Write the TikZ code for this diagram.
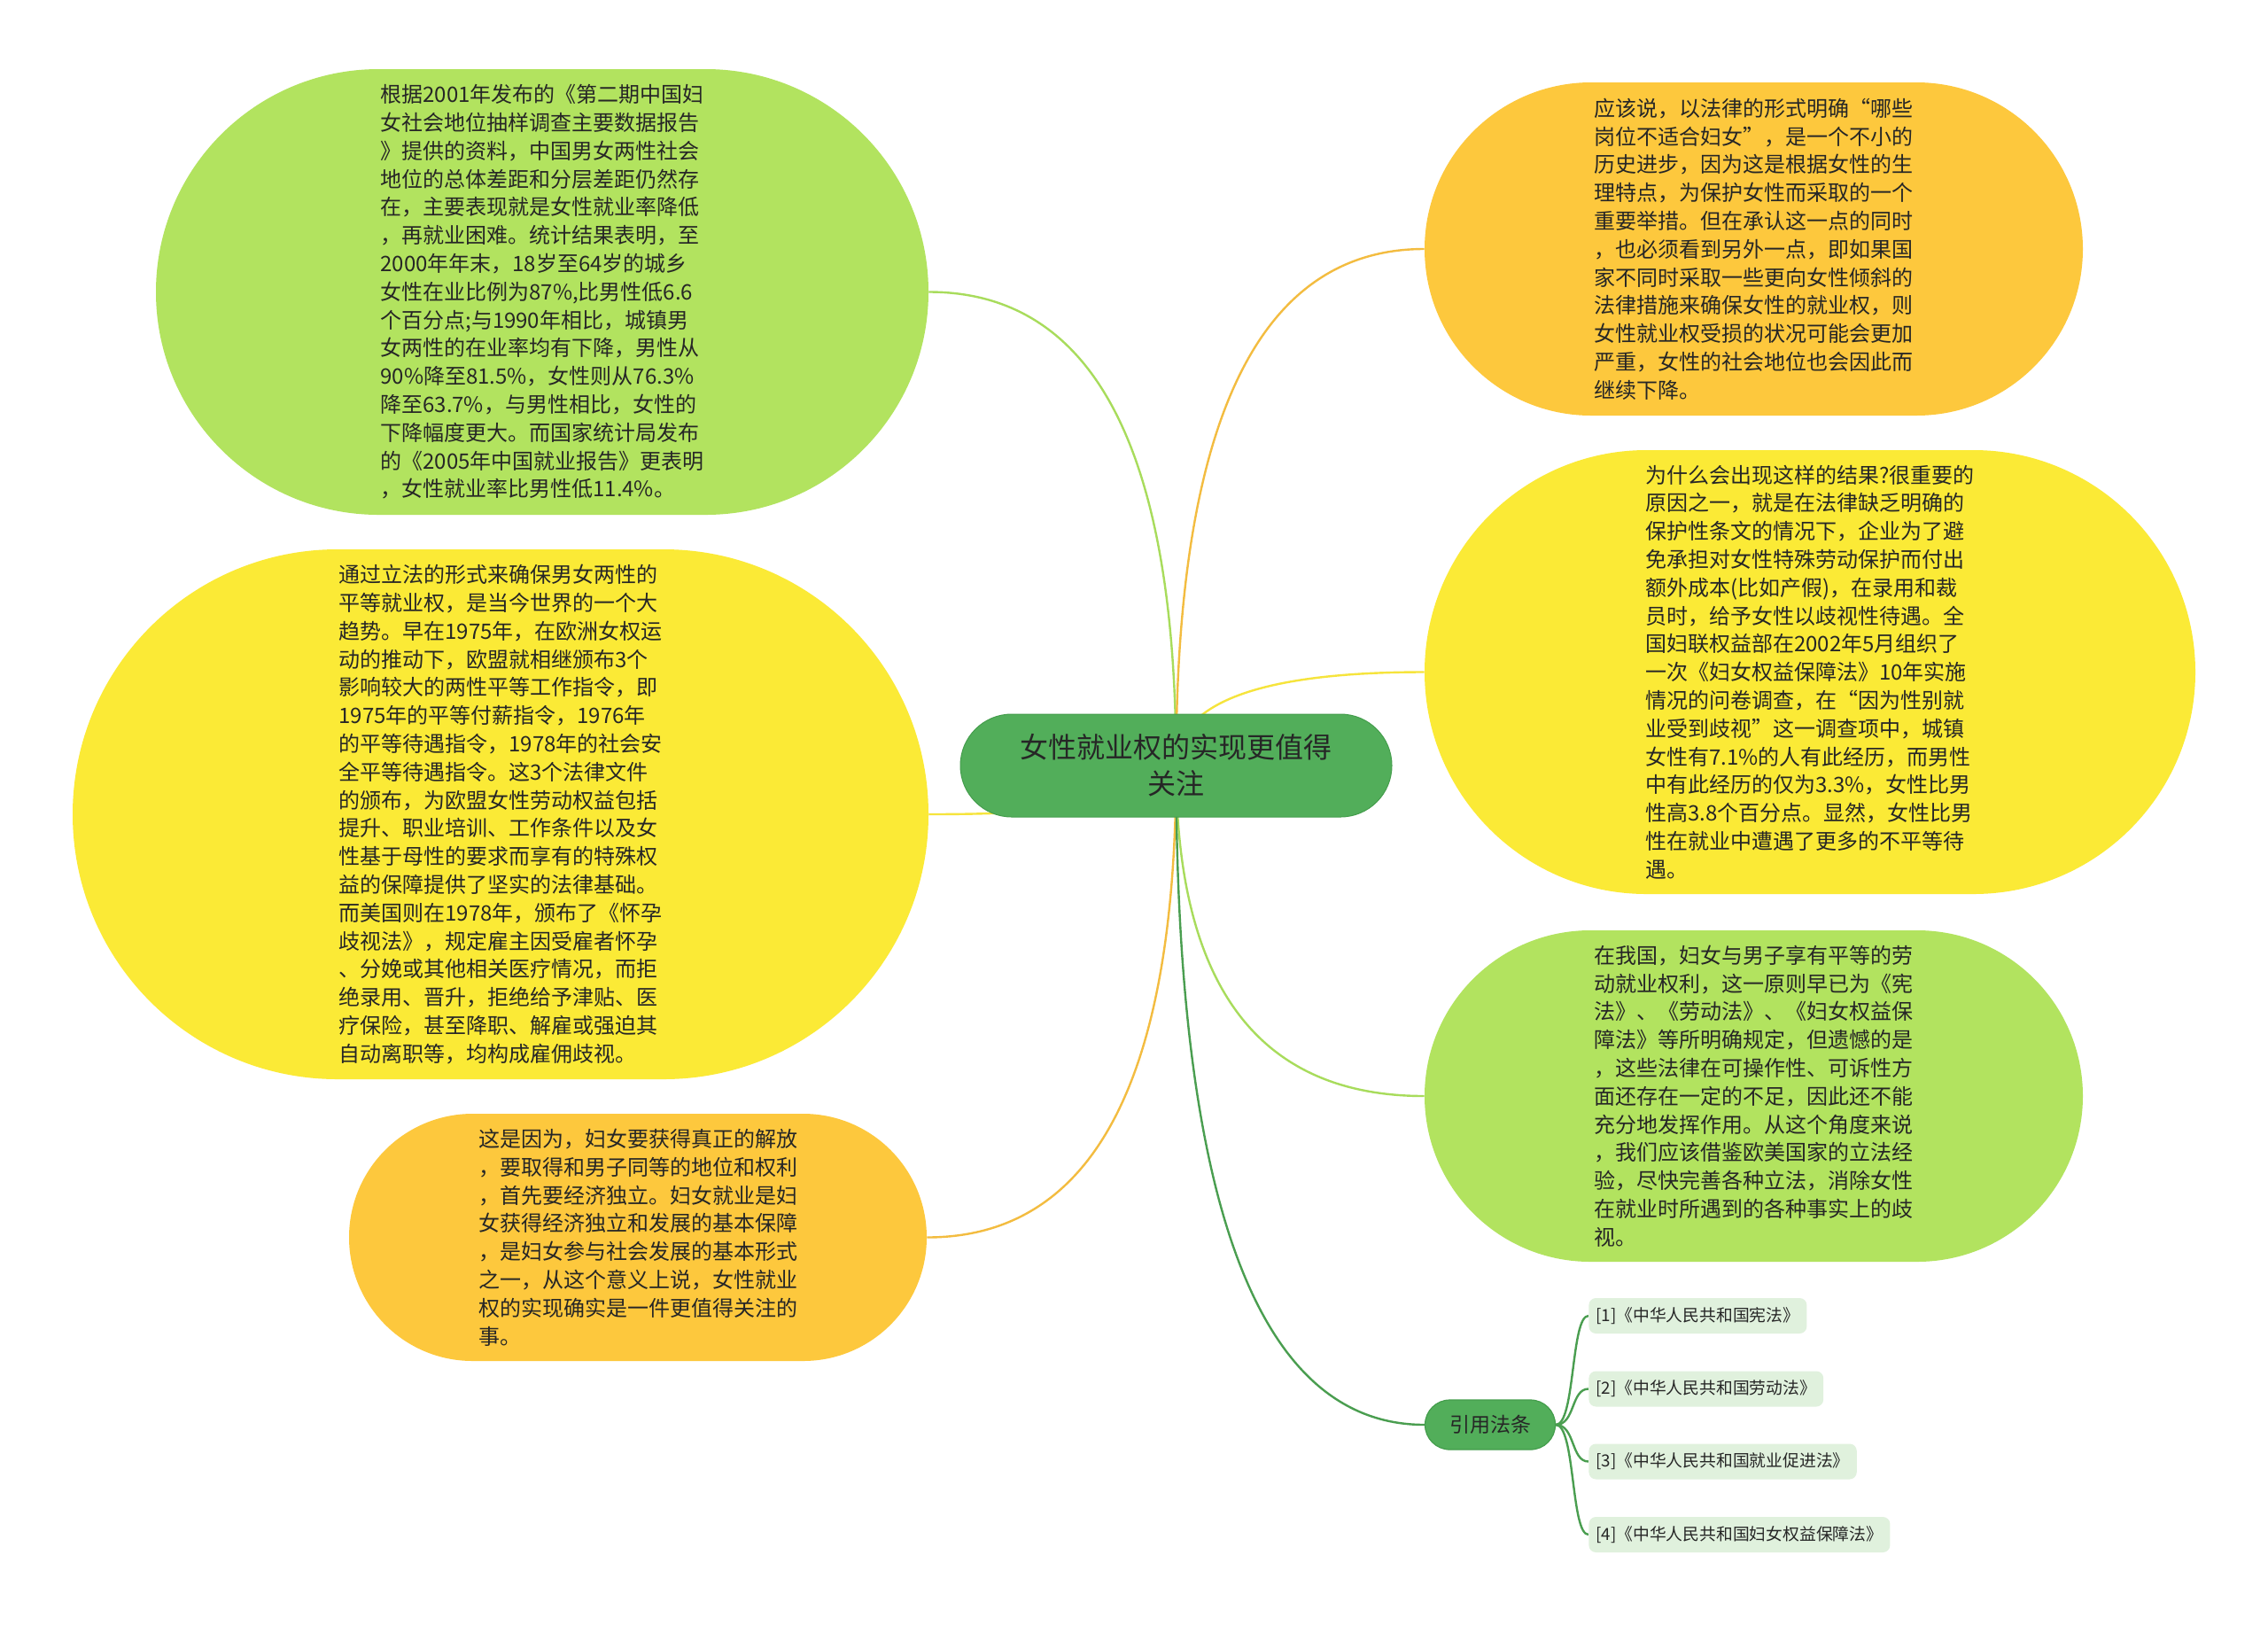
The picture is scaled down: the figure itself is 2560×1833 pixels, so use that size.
\documentclass[tikz,border=0pt]{standalone}
\usepackage{fontspec}
\setmainfont{Noto Sans CJK SC}
\usetikzlibrary{shapes.misc,calc}
\pgfdeclarelayer{bg}
\pgfdeclarelayer{links}
\pgfsetlayers{bg,links,main}
\definecolor{cLime}{HTML}{B2E35F}
\definecolor{cYel}{HTML}{FBEA36}
\definecolor{cOra}{HTML}{FDC83D}
\definecolor{cRoot}{HTML}{52AE5A}
\definecolor{cRootB}{HTML}{449D4C}
\definecolor{cLeaf}{HTML}{E0F1DD}
\definecolor{cText}{HTML}{262626}
\definecolor{lnLime}{HTML}{A8DC5C}
\definecolor{lnYel}{HTML}{F6E43C}
\definecolor{lnOra}{HTML}{F3BC40}
\definecolor{lnDark}{HTML}{4A9E50}
\newcommand\mmlink[3]{%
  \draw[#1] (#2.center) .. controls ($(#2.center)!0.667!(#2.center|-#3)$) and ($(#3)!0.667!(#2.center|-#3)$) .. (#3);}
\newcommand\leaflink[2]{%
  \draw[link,lnDark] (#1.east) .. controls ($(#1.east)+(22,0)$) and ($(#2.west)+(-20,0)$) .. (#2.west);}
\tikzset{
  bubble/.style={rounded rectangle, inner sep=0pt, text=cText, align=left,
    font=\fontsize{12pt}{15.9pt}\selectfont},
  rootbox/.style={rounded rectangle, inner sep=0pt, fill=cRoot, draw=cRootB, line width=0.5pt,
    text=cText, align=center, font=\fontsize{16pt}{20.5pt}\selectfont,
    minimum width=243.5pt, minimum height=58pt},
  citebox/.style={rounded rectangle, inner sep=0pt, fill=cRoot, draw=cRootB, line width=0.6pt,
    text=cText, font=\fontsize{11.5pt}{14pt}\selectfont,
    minimum width=73.5pt, minimum height=28pt},
  leafbox/.style={rectangle, rounded corners=4pt, fill=cLeaf, anchor=west, inner xsep=4pt,
    inner ysep=0pt, minimum height=20pt, text=cText, font=\fontsize{9.4pt}{11pt}\selectfont},
  link/.style={line width=1.2pt},
}
\begin{document}
\begin{tikzpicture}[x=0.5pt,y=-0.5pt]
\begin{pgfonlayer}{bg}
\fill[white] (0,0) rectangle (2560,1833);
\end{pgfonlayer}
\useasboundingbox (0,0) rectangle (2560,1833);

\node[rootbox] (root) at (1327.5,864) {女性就业权的实现更值得\\关注};

\node[bubble, fill=cLime, minimum width=436pt, minimum height=251.5pt] (tl) at (612,329.5) {%
根据2001年发布的《第二期中国妇\\
女社会地位抽样调查主要数据报告\\
》提供的资料，中国男女两性社会\\
地位的总体差距和分层差距仍然存\\
在，主要表现就是女性就业率降低\\
，再就业困难。统计结果表明，至\\
2000年年末，18岁至64岁的城乡\\
女性在业比例为87\%,比男性低6.6\\
个百分点;与1990年相比，城镇男\\
女两性的在业率均有下降，男性从\\
90\%降至81.5\%，女性则从76.3\%\\
降至63.7\%，与男性相比，女性的\\
下降幅度更大。而国家统计局发布\\
的《2005年中国就业报告》更表明\\
，女性就业率比男性低11.4\%。};

\node[bubble, fill=cYel, minimum width=483pt, minimum height=299pt] (ly) at (565,919) {%
通过立法的形式来确保男女两性的\\
平等就业权，是当今世界的一个大\\
趋势。早在1975年，在欧洲女权运\\
动的推动下，欧盟就相继颁布3个\\
影响较大的两性平等工作指令，即\\
1975年的平等付薪指令，1976年\\
的平等待遇指令，1978年的社会安\\
全平等待遇指令。这3个法律文件\\
的颁布，为欧盟女性劳动权益包括\\
提升、职业培训、工作条件以及女\\
性基于母性的要求而享有的特殊权\\
益的保障提供了坚实的法律基础。\\
而美国则在1978年，颁布了《怀孕\\
歧视法》，规定雇主因受雇者怀孕\\
、分娩或其他相关医疗情况，而拒\\
绝录用、晋升，拒绝给予津贴、医\\
疗保险，甚至降职、解雇或强迫其\\
自动离职等，均构成雇佣歧视。};

\node[bubble, fill=cOra, minimum width=326pt, minimum height=139.5pt] (lo) at (720,1396.5) {%
这是因为，妇女要获得真正的解放\\
，要取得和男子同等的地位和权利\\
，首先要经济独立。妇女就业是妇\\
女获得经济独立和发展的基本保障\\
，是妇女参与社会发展的基本形式\\
之一，从这个意义上说，女性就业\\
权的实现确实是一件更值得关注的\\
事。};

\node[bubble, fill=cOra, minimum width=371.5pt, minimum height=188pt] (ro) at (1979.5,281) {%
应该说，以法律的形式明确“哪些\\
岗位不适合妇女”，是一个不小的\\
历史进步，因为这是根据女性的生\\
理特点，为保护女性而采取的一个\\
重要举措。但在承认这一点的同时\\
，也必须看到另外一点，即如果国\\
家不同时采取一些更向女性倾斜的\\
法律措施来确保女性的就业权，则\\
女性就业权受损的状况可能会更加\\
严重，女性的社会地位也会因此而\\
继续下降。};

\node[bubble, fill=cYel, minimum width=435pt, minimum height=250.5pt] (ry) at (2043,758.5) {%
为什么会出现这样的结果?很重要的\\
原因之一，就是在法律缺乏明确的\\
保护性条文的情况下，企业为了避\\
免承担对女性特殊劳动保护而付出\\
额外成本(比如产假)，在录用和裁\\
员时，给予女性以歧视性待遇。全\\
国妇联权益部在2002年5月组织了\\
一次《妇女权益保障法》10年实施\\
情况的问卷调查，在“因为性别就\\
业受到歧视”这一调查项中，城镇\\
女性有7.1\%的人有此经历，而男性\\
中有此经历的仅为3.3\%，女性比男\\
性高3.8个百分点。显然，女性比男\\
性在就业中遭遇了更多的不平等待\\
遇。};

\node[bubble, fill=cLime, minimum width=371.5pt, minimum height=187pt] (rg) at (1979.5,1237) {%
在我国，妇女与男子享有平等的劳\\
动就业权利，这一原则早已为《宪\\
法》、《劳动法》、《妇女权益保\\
障法》等所明确规定，但遗憾的是\\
，这些法律在可操作性、可诉性方\\
面还存在一定的不足，因此还不能\\
充分地发挥作用。从这个角度来说\\
，我们应该借鉴欧美国家的立法经\\
验，尽快完善各种立法，消除女性\\
在就业时所遇到的各种事实上的歧\\
视。};

\node[citebox] (cite) at (1682,1608) {引用法条};

\node[leafbox] (l1) at (1793,1485) {[1]《中华人民共和国宪法》};
\node[leafbox] (l2) at (1793,1567.5) {[2]《中华人民共和国劳动法》};
\node[leafbox] (l3) at (1793,1649.5) {[3]《中华人民共和国就业促进法》};
\node[leafbox] (l4) at (1793,1732) {[4]《中华人民共和国妇女权益保障法》};

\begin{pgfonlayer}{links}
\mmlink{link,lnLime}{root}{tl.east}
\mmlink{link,lnYel}{root}{ly.east}
\mmlink{link,lnOra}{root}{lo.east}
\mmlink{link,lnOra}{root}{ro.west}
\mmlink{link,lnYel}{root}{ry.west}
\mmlink{link,lnLime}{root}{rg.west}
\mmlink{link,lnDark}{root}{cite.west}
\leaflink{cite}{l1}
\leaflink{cite}{l2}
\leaflink{cite}{l3}
\leaflink{cite}{l4}
\end{pgfonlayer}
\end{tikzpicture}
\end{document}
